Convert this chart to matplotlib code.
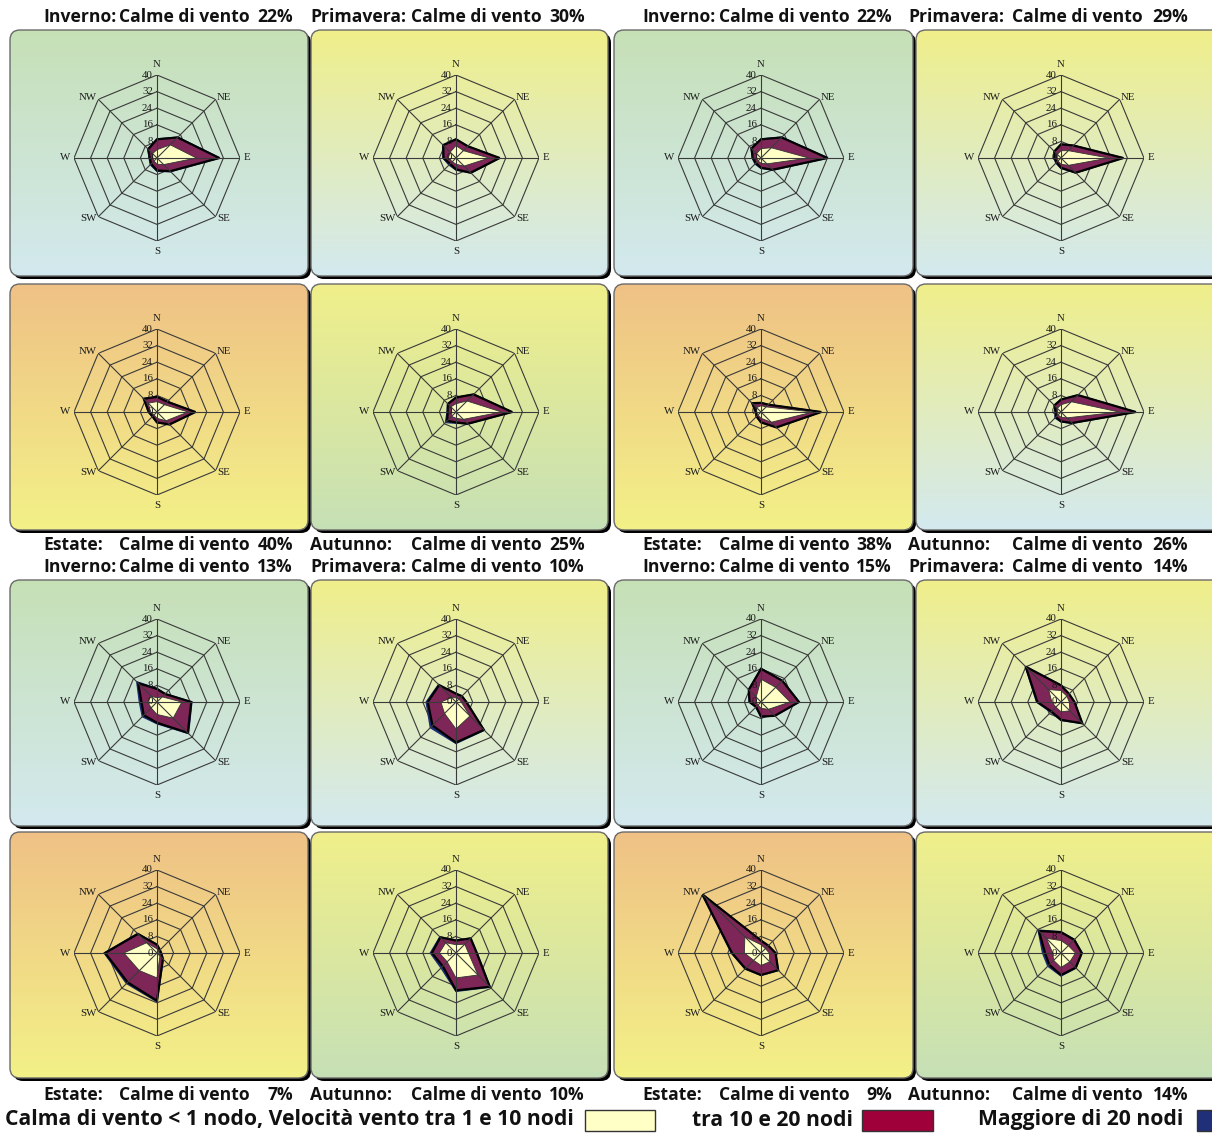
import numpy as np
import matplotlib
matplotlib.use('Agg')
import matplotlib.pyplot as plt
from matplotlib.patches import FancyBboxPatch, Rectangle
from matplotlib.colors import LinearSegmentedColormap

W, H = 1212, 1133

# direzioni della rosa e cerchi della scala
directions = ['N', 'NE', 'E', 'SE', 'S', 'SW', 'W', 'NW']
ring_ticks = [0, 8, 16, 24, 32, 40]

# stagione e calme di vento per ogni pannello (righe della griglia 4x4)
seasons = [
    ['Inverno:', 'Primavera:', 'Inverno:', 'Primavera:'],
    ['Estate:', 'Autunno:', 'Estate:', 'Autunno:'],
    ['Inverno:', 'Primavera:', 'Inverno:', 'Primavera:'],
    ['Estate:', 'Autunno:', 'Estate:', 'Autunno:'],
]
calms = [
    [22, 30, 22, 29],
    [40, 25, 38, 26],
    [13, 10, 15, 14],
    [7, 10, 9, 14],
]

# frequenze (%) per direzione N, NE, E, SE, S, SW, W, NW
# velocita' tra 1 e 10 nodi
low = [
    [4, 9, 19, 4.5, 3, 2, 2, 3],
    [6, 5, 16, 5.5, 3, 2.5, 3.7, 4],
    [4.5, 7, 23, 4, 2.5, 2, 2, 3],
    [3.5, 5, 23, 5, 3, 2, 1.8, 2.5],
    [5, 5, 15, 6, 3, 2, 3, 6],
    [4, 7.5, 22, 5, 3, 3, 2, 3.5],
    [3, 3.5, 25, 7, 3, 2, 2, 3],
    [3.5, 7, 28, 4, 2.5, 2, 1.7, 2.5],
    [2, 3.5, 12, 11, 6, 4, 4.5, 4],
    [2, 2, 2.5, 9.5, 13, 7.8, 7.3, 3],
    [11, 10, 14, 5, 3, 2, 2.5, 3.3],
    [5.5, 4, 4, 6, 4.7, 3.5, 4.4, 8.5],
    [2, 1, 1, 2, 12, 12, 16, 7],
    [4, 6, 6, 15, 12, 6, 8, 7],
    [4, 3, 4, 6, 6, 5, 8, 11],
    [6, 5, 7, 6, 7, 5, 4, 10],
]
# velocita' tra 10 e 20 nodi
mid = [
    [5, 5, 11, 4.5, 3, 2, 1.5, 3],
    [3, 3, 5, 4.5, 2.5, 1.5, 2.3, 4.7],
    [4.5, 7, 9, 4, 2.2, 1.5, 2, 3.5],
    [3.1, 3.5, 7, 5, 1.7, 1, 1.4, 2],
    [2.3, 2, 3.5, 2.5, 2, 1, 1, 3],
    [3, 4.5, 5, 3, 2, 3, 2, 2],
    [1.4, 1.5, 4, 3.5, 2, 1, 0.5, 3],
    [2.5, 4.5, 8, 3.5, 2, 1.5, 0.9, 2],
    [4.3, 2, 4.5, 10, 4, 5, 3, 8.8],
    [2, 2, 2.5, 9.5, 6.5, 8.2, 6.3, 8.5],
    [5, 4.5, 4.3, 4.4, 4, 1.3, 3, 5],
    [2.5, 1.5, 2.5, 8.5, 3.9, 3, 7, 15.5],
    [2, 1, 1, 2, 11, 8, 9, 6],
    [2, 4, 4, 8, 6, 3, 3.6, 3.7],
    [2, 2, 3, 5.7, 4.6, 5.6, 6, 29],
    [4, 4, 3, 4, 3.6, 3, 3.7, 5],
]
# velocita' maggiore di 20 nodi
high = [
    [0.2, 0.2, 0.3, 0.3, 0.4, 0.6, 0.3, 0.2],
    [0.2, 0.1, 0.2, 0.3, 0.3, 0.8, 0.3, 0.3],
    [0.2, 0.2, 0.3, 0.2, 0.3, 0.6, 0.2, 0.2],
    [0.1, 0.1, 0.2, 0.2, 0.3, 0.5, 0.2, 0.1],
    [0.1, 0.1, 0.1, 0.1, 0.2, 0.3, 0.1, 0.2],
    [0.1, 0.1, 0.2, 0.2, 0.4, 1.2, 0.3, 0.2],
    [0.1, 0.1, 0.1, 0.1, 0.1, 0.2, 0.1, 0.1],
    [0.1, 0.1, 0.2, 0.2, 0.3, 0.6, 0.2, 0.1],
    [0.2, 0.1, 0.3, 0.5, 0.5, 1, 1, 1],
    [0.1, 0.1, 0.1, 0.3, 0.5, 1.5, 0.8, 0.4],
    [0.2, 0.1, 0.1, 0.1, 0.2, 0.3, 0.2, 0.2],
    [0.2, 0.1, 0.1, 0.2, 0.3, 0.5, 0.4, 0.4],
    [0.2, 0.1, 0.1, 0.3, 0.5, 0.8, 0.5, 0.3],
    [0.2, 0.1, 0.2, 0.3, 0.5, 1.2, 0.8, 0.3],
    [0.1, 0.1, 0.1, 0.2, 0.2, 0.3, 0.3, 0.3],
    [0.3, 0.2, 0.2, 0.3, 0.5, 1, 1.2, 0.6],
]

legend_labels = ['Calma di vento < 1 nodo, Velocità vento tra 1 e 10 nodi',
                 'tra 10 e 20 nodi', 'Maggiore di 20 nodi']

# colori
CREAM = '#FFFFC6'
MAROON = '#7E2657'
NAVY = '#1F2F78'
GRID = '#3a3a3a'
gradients = {
    'GB': ('#C6E0B6', '#D3E9EF'),
    'YB': ('#F0EF8A', '#D3E9EF'),
    'OY': ('#EFC185', '#F3F188'),
    'YG': ('#F0EF8A', '#C6E0B6'),
}
backgrounds = [
    ['GB', 'YB', 'GB', 'YB'],
    ['OY', 'YG', 'OY', 'YB'],
    ['GB', 'YB', 'GB', 'YB'],
    ['OY', 'YG', 'OY', 'YG'],
]

# posizioni in pixel
col_box = [(10, 308), (311, 608), (614, 913), (916, 1230)]
row_box = [(30, 276), (284, 530), (580, 826), (832, 1078)]
col_center = [157, 456, 761, 1061]
row_center = [158, 412, 702, 953]
R_PX = 83
title_y = [17, 545, 567, 1095]
season_x = [43, 310, 642, 908]
calme_x = [119, 411, 719, 1012]
pct_x = [293, 585, 892, 1188]

# posizione delle etichette N, NE, ... (offset in punti, allineamento)
label_offsets = [(0, 4, 'center', 'bottom'), (1, 1, 'left', 'center'),
                 (2.5, 0, 'left', 'center'), (1, -1, 'left', 'center'),
                 (0, -4, 'center', 'top'), (-1, -1, 'right', 'center'),
                 (-2.5, 0, 'right', 'center'), (-1, 1, 'right', 'center')]

TITLE_FONT = dict(family='Open Sans', fontweight='bold', fontsize=12.6, color='#111111')
SERIF = dict(family='Liberation Serif', fontsize=7.8, color='#1a1a1a')

fig = plt.figure(figsize=(W / 100, H / 100), dpi=100)
fig.patch.set_facecolor('white')

bg = fig.add_axes([0, 0, 1, 1])
bg.set_axis_off()

# riquadri arrotondati con sfumatura e ombra
for i in range(4):
    for j in range(4):
        x0, x1 = col_box[j]
        y0, y1 = row_box[i]
        shadow = FancyBboxPatch((x0 + 3, y0 + 3), x1 - x0, y1 - y0,
                                boxstyle='round,pad=0,rounding_size=10',
                                fc='black', ec='black', lw=0, zorder=1)
        bg.add_patch(shadow)
        box = FancyBboxPatch((x0, y0), x1 - x0, y1 - y0,
                             boxstyle='round,pad=0,rounding_size=10',
                             fc='none', ec='#6a6a6a', lw=1, zorder=3)
        bg.add_patch(box)
        top, bottom = gradients[backgrounds[i][j]]
        cmap = LinearSegmentedColormap.from_list('g', [top, bottom])
        img = bg.imshow(np.linspace(0, 1, 256)[:, None], cmap=cmap, aspect='auto',
                        extent=(x0, x1, y1, y0), origin='upper', zorder=2)
        img.set_clip_path(box)

# titoli
for i in range(4):
    for j in range(4):
        y = title_y[i]
        bg.text(season_x[j], y, seasons[i][j], ha='left', va='center', **TITLE_FONT)
        bg.text(calme_x[j], y, 'Calme di vento', ha='left', va='center', **TITLE_FONT)
        bg.text(pct_x[j], y, f'{calms[i][j]}%', ha='right', va='center', **TITLE_FONT)

# legenda
LEG_FONT = dict(family='Open Sans', fontweight='bold', fontsize=15.2, color='#111111')
bg.text(5, 1120, legend_labels[0], ha='left', va='center', **LEG_FONT)
bg.add_patch(Rectangle((585, 1110), 70, 21, fc=CREAM, ec='#333333', lw=1, zorder=3))
bg.text(692, 1120, legend_labels[1], ha='left', va='center', **LEG_FONT)
bg.add_patch(Rectangle((862, 1110), 71, 21, fc='#A0003A', ec='#333333', lw=1, zorder=3))
bg.text(978, 1120, legend_labels[2], ha='left', va='center', **LEG_FONT)
bg.add_patch(Rectangle((1197, 1110), 30, 21, fc=NAVY, ec='#333333', lw=1, zorder=3))

bg.set_xlim(0, W)
bg.set_ylim(H, 0)

theta = np.linspace(0, 2 * np.pi, len(directions), endpoint=False)
closed = np.append(theta, theta[0])


def close(v):
    v = np.asarray(v, dtype=float)
    return np.append(v, v[0])


# rose dei venti
for k in range(16):
    i, j = divmod(k, 4)
    cx, cy = col_center[j], row_center[i]
    rect = [(cx - R_PX) / W, 1 - (cy + R_PX) / H, 2 * R_PX / W, 2 * R_PX / H]
    ax = fig.add_axes(rect, projection='polar')
    ax.set_theta_zero_location('N')
    ax.set_theta_direction(-1)
    ax.set_facecolor('none')
    ax.spines['polar'].set_visible(False)
    ax.set_xticks([])
    ax.set_yticks([])
    ax.grid(False)

    for r in ring_ticks[1:]:
        ax.plot(closed, [r] * len(closed), color=GRID, lw=0.8, zorder=1)

    c1 = np.array(low[k])
    c2 = c1 + np.array(mid[k])
    c3 = c2 + np.array(high[k])
    ax.fill(closed, close(c3), fc=NAVY, ec=NAVY, lw=1, zorder=2)
    ax.fill(closed, close(c2), fc=MAROON, ec='black', lw=1.6, zorder=3)
    ax.fill(closed, close(c1), fc=CREAM, ec='#333333', lw=0.6, zorder=4)

    for t in theta:
        ax.plot([t, t], [0, ring_ticks[-1]], color=GRID, lw=0.8, zorder=5)

    rmax = ring_ticks[-1]
    for t, name, (dx, dy, ha, va) in zip(theta, directions, label_offsets):
        ax.annotate(name, xy=(t, rmax), xytext=(dx, dy), textcoords='offset points',
                    ha=ha, va=va, annotation_clip=False, **SERIF)
    for r in ring_ticks:
        ax.annotate(str(r), xy=(0, r), xytext=(-3, 0), textcoords='offset points',
                    ha='right', va='center', zorder=6, **SERIF)
    ax.set_ylim(0, rmax)

fig.savefig('out.png', dpi=100)
